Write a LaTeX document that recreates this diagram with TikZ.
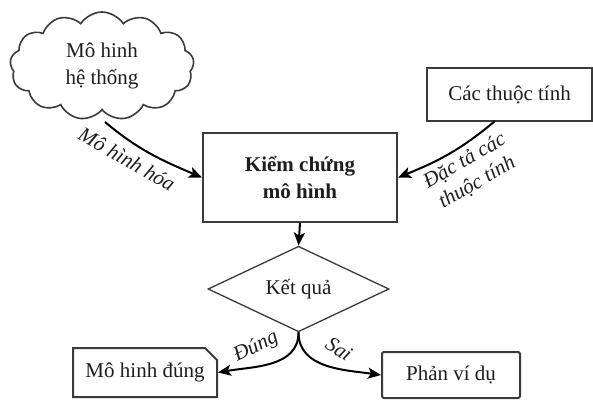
\documentclass[tikz,border=0pt]{standalone}
\usepackage{fontspec}
\setmainfont{Liberation Serif}
\usetikzlibrary{shapes.symbols,shapes.geometric,shapes.misc,arrows.meta}
\definecolor{ln}{HTML}{3A3A3A}
\definecolor{tx}{HTML}{1E1E1E}
\tikzset{
  boxline/.style={draw=ln, line width=2pt, fill=white},
  txt/.style={text=tx, font=\fontsize{21}{27}\selectfont, align=center},
  lbl/.style={text=tx, font=\fontsize{21}{25}\selectfont\itshape, align=center, inner sep=0pt},
  conn/.style={draw=black, line width=2pt, -{Stealth[length=13pt,width=11pt,inset=3pt]}},
}
\begin{document}
\begin{tikzpicture}[x=1pt,y=-1pt]
\useasboundingbox (0,0) rectangle (593,400);
% cloud
\node[cloud, cloud puffs=13, cloud puff arc=115, aspect=1.8, draw=ln, line width=1.6pt,
      minimum width=184pt, minimum height=108pt, inner sep=0pt, txt] (cloud) at (102,66) {Mô hinh\\hệ thống};
% main box
\node[boxline, txt, minimum width=194pt, minimum height=89pt, font=\fontsize{21}{27}\selectfont\bfseries] (main) at (300,177.5) {Kiểm chứng\\mô hình};
% properties box
\node[boxline, txt, minimum width=165pt, minimum height=53pt] (prop) at (509.5,94.5) {Các thuộc tính};
% decision
\node[diamond, draw=ln, line width=1.3pt, minimum width=181pt, minimum height=76pt, inner sep=0pt, txt] (dec) at (298.5,289) {Kết quả};
% results
\node[chamfered rectangle, chamfered rectangle corners=north east, chamfered rectangle xsep=6pt, chamfered rectangle ysep=6pt,
      boxline, txt, minimum width=144pt, minimum height=49pt] (ok) at (145,372.5) {Mô hinh đúng};
\node[boxline, rounded corners=2pt, txt, minimum width=138pt, minimum height=46pt] (cex) at (451,375) {Phản ví dụ};
% connectors
\coordinate (cs) at (105,122);
\coordinate (ps) at (495,121);
\draw[conn] (cs) to[out=-40, in=157] (main.west);
\draw[conn] (ps) to[out=-140, in=22] (main.east);
\draw[conn] (main.south) -- (dec.north);
\draw[conn] (dec.south) to[out=-90, in=10] (ok.east);
\draw[conn] (dec.south) to[out=-90, in=172] (cex.west);
% labels
\node[lbl, rotate=-30] (l1) at (127,159) {Mô hình hóa};
\node[lbl, rotate=30] (l2) at (471,172) {Đặc tả các\\thuộc tính};
\node[lbl, rotate=26] (l3) at (256,347) {Đúng};
\node[lbl, rotate=-33] (l4) at (339,349) {Sai};
\end{tikzpicture}
\end{document}
